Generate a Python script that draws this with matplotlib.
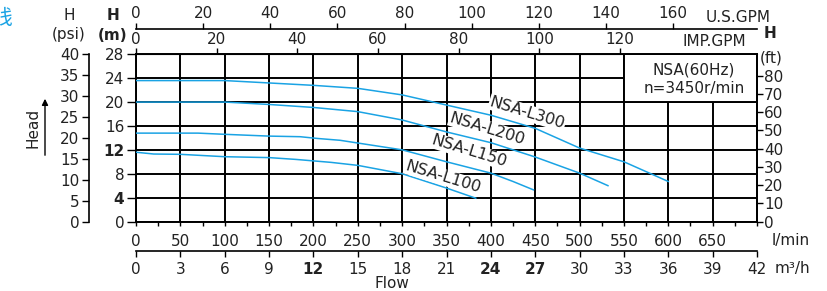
import matplotlib
matplotlib.use('Agg')
import matplotlib.pyplot as plt
from matplotlib.patches import Rectangle

# pump curves: flow (l/min) vs head (m)
q300 = [0, 100, 150, 200, 250, 300, 350, 400, 450, 500, 550, 600]
h300 = [23.6, 23.6, 23.2, 22.8, 22.3, 21.2, 19.5, 17.8, 15.6, 12.3, 10.0, 6.7]
q200 = [0, 100, 150, 200, 250, 300, 350, 400, 450, 500, 532]
h200 = [20.0, 20.0, 19.6, 19.1, 18.4, 17.0, 15.0, 13.2, 10.8, 8.1, 6.0]
q150 = [0, 70, 100, 150, 185, 205, 230, 300, 350, 400, 425, 448]
h150 = [14.8, 14.8, 14.6, 14.3, 14.2, 13.9, 13.6, 12.0, 10.0, 8.1, 6.7, 5.3]
q100 = [0, 20, 50, 100, 150, 180, 220, 250, 300, 350, 383]
h100 = [11.6, 11.3, 11.25, 10.85, 10.7, 10.4, 9.9, 9.4, 8.0, 5.6, 3.9]

curves = [(q300, h300), (q200, h200), (q150, h150), (q100, h100)]
curve_names = ['NSA-L300', 'NSA-L200', 'NSA-L150', 'NSA-L100']

lmin_ticks = list(range(0, 701, 50))
lmin_labels = [str(v) for v in lmin_ticks[:-1]] + ['']
m_ticks = list(range(0, 29, 4))
psi_ticks = list(range(0, 41, 5))
ft_ticks = list(range(0, 81, 10))
m3h_ticks = list(range(0, 43, 3))
usgpm_ticks = list(range(0, 161, 20))
impgpm_ticks = list(range(0, 121, 20))

W, H = 828, 291
BLUE = '#1aa3e4'
TXT = '#222222'
GLW = 1.4

plt.rcParams['font.family'] = ['DejaVu Sans']
plt.rcParams['font.size'] = 11


def rect(l, t, r, b):
    return [l / W, 1 - b / H, (r - l) / W, (b - t) / H]


def fpos(x, y):
    return x / W, 1 - y / H


fig = plt.figure(figsize=(W / 100, H / 100), dpi=100)

top, bot = 54.3, 221.5
ax = fig.add_axes(rect(136, top, 757, bot))
ax.set_xlim(0, 700)
ax.set_ylim(0, 28)
for s in ax.spines.values():
    s.set_linewidth(GLW)
    s.set_color('k')

ax.set_xticks(lmin_ticks)
ax.set_xticklabels(lmin_labels, color=TXT)
ax.set_xticks([v + 25 for v in lmin_ticks[:-1]], minor=True)
ax.tick_params(axis='x', which='major', direction='out', length=3, width=1, pad=6)
ax.tick_params(axis='x', which='minor', direction='out', length=3, width=1)
ax.set_yticks(m_ticks)
ax.set_yticklabels([str(v) for v in m_ticks], color=TXT)
for lab in ax.get_yticklabels():
    if lab.get_text() in ('4', '12'):
        lab.set_fontweight('bold')
ax.tick_params(axis='y', direction='out', length=6.5, width=1, pad=2)
ax.grid(True, color='k', lw=GLW)

for q, h in curves:
    ax.plot(q, h, color=BLUE, lw=1.1, zorder=3)

ax.add_patch(Rectangle((550, 20), 150, 8, fc='white', ec='k', lw=GLW, zorder=2.5))
ax.text(629, 25.4, 'NSA(60Hz)', ha='center', va='center', fontsize=11, color=TXT, zorder=4)
ax.text(629, 22.2, 'n=3450r/min', ha='center', va='center', fontsize=11, color=TXT, zorder=4)

label_pos = [(441, 18.2), (396, 15.5), (375, 11.8), (346, 7.45)]
for name, (x, y) in zip(curve_names, label_pos):
    ax.text(x, y, name, rotation=-17, ha='center', va='center', fontsize=11.5,
            color=TXT, zorder=4, rotation_mode='anchor',
            bbox=dict(fc='white', ec='none', pad=0.5))

# right axis in feet
axr = ax.twinx()
axr.set_ylim(0, 28 / 0.3048)
axr.set_yticks(ft_ticks)
axr.set_yticklabels([str(v) for v in ft_ticks], color=TXT)
axr.tick_params(axis='y', direction='out', length=4, width=1, pad=1)
for k in ('left', 'top', 'bottom'):
    axr.spines[k].set_visible(False)
axr.spines['right'].set_linewidth(GLW)

# psi axis
psi_top = bot - 40 * 0.70307 * (bot - top) / 28
axp = fig.add_axes(rect(89, psi_top, 90, bot))
axp.set_ylim(0, 40)
axp.set_yticks(psi_ticks)
axp.set_yticklabels([str(v) for v in psi_ticks], color=TXT)
axp.set_xticks([])
axp.patch.set_visible(False)
for k in ('right', 'top', 'bottom'):
    axp.spines[k].set_visible(False)
axp.spines['left'].set_linewidth(1.2)
axp.tick_params(axis='y', direction='out', length=5, width=1, pad=2)

# IMP.GPM on top spine
ax_imp = ax.secondary_xaxis('top', functions=(lambda x: x / 4.546, lambda x: x * 4.546))
ax_imp.set_xticks(impgpm_ticks)
ax_imp.set_xticklabels([str(v) for v in impgpm_ticks], color=TXT)
ax_imp.tick_params(direction='out', length=4, width=1, pad=1)

# U.S.GPM line above
loc_us = 1 + (top - 29.3) / (bot - top)
ax_us = ax.secondary_xaxis(loc_us, functions=(lambda x: x / 3.785, lambda x: x * 3.785))
ax_us.set_xticks(usgpm_ticks)
ax_us.set_xticklabels([str(v) for v in usgpm_ticks], color=TXT)
ax_us.tick_params(direction='out', length=4, width=1, pad=2)
ax_us.spines['top'].set_linewidth(1.2)

# m3/h line below
loc_m3 = -(250.7 - bot) / (bot - top)
ax_m3 = ax.secondary_xaxis(loc_m3, functions=(lambda x: x * 0.06, lambda x: x / 0.06))
ax_m3.set_xticks(m3h_ticks)
ax_m3.set_xticklabels([str(v) for v in m3h_ticks], color=TXT)
for lab in ax_m3.get_xticklabels():
    if lab.get_text() in ('12', '24', '27'):
        lab.set_fontweight('bold')
ax_m3.tick_params(direction='out', length=4, width=1, pad=4)
ax_m3.spines['bottom'].set_linewidth(1.2)

# unit texts
fig.text(*fpos(738, 17), 'U.S.GPM', ha='center', va='center', color=TXT)
fig.text(*fpos(714, 42), 'IMP.GPM', ha='center', va='center', color=TXT)
fig.text(*fpos(791, 240), 'l/min', ha='center', va='center', color=TXT)
fig.text(*fpos(792, 268), 'm³/h', ha='center', va='center', color=TXT)
fig.text(*fpos(392, 284), 'Flow', ha='center', va='center', color=TXT)
fig.text(*fpos(69, 15), 'H', ha='center', va='center', color=TXT)
fig.text(*fpos(69, 35), '(psi)', ha='center', va='center', color=TXT)
fig.text(*fpos(113, 15), 'H', ha='center', va='center', color=TXT, fontweight='bold')
fig.text(*fpos(113, 35), '(m)', ha='center', va='center', color=TXT, fontweight='bold')
fig.text(*fpos(770, 33), 'H', ha='center', va='center', color=TXT, fontweight='bold')
fig.text(*fpos(771, 58), '(ft)', ha='center', va='center', color=TXT)
fig.text(*fpos(33, 128), 'Head', rotation=90, ha='center', va='center', color=TXT)
ax.annotate('', xy=fpos(45, 96), xytext=fpos(45, 158), xycoords='figure fraction',
            arrowprops=dict(arrowstyle='-|>', color='k', lw=1, mutation_scale=9))
fig.text(*fpos(14, 18), '曲线', ha='right', va='center', color=BLUE, fontsize=15,
         family=['Noto Sans CJK SC', 'DejaVu Sans'])

fig.savefig('out.png', dpi=100)
